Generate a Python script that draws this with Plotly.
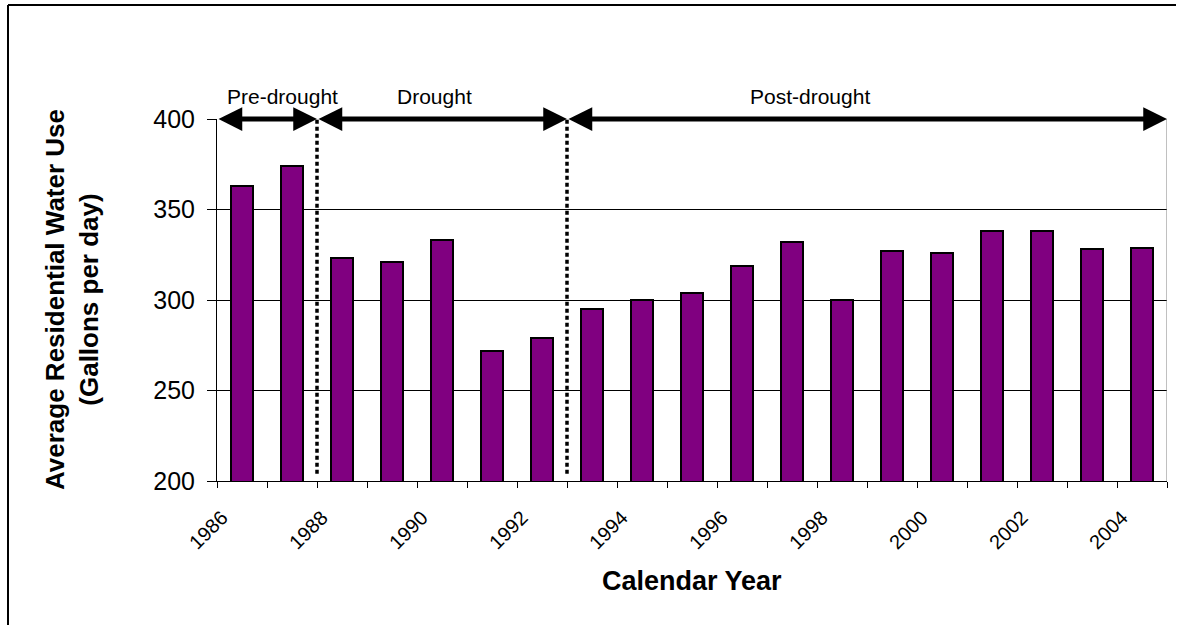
import plotly.graph_objects as go

# ---- data ----
years = list(range(1986, 2005))
water_use = [363, 374, 323, 321, 333, 272, 279, 295, 300, 304, 319, 332,
             300, 327, 326, 338, 338, 328, 329]
tick_years = list(range(1986, 2005, 2))
tick_labels = [str(y) for y in tick_years]
period_names = ["Pre-drought", "Drought", "Post-drought"]
period_bounds = [1986, 1988, 1993, 2005]
period_label_x = [1987.3, 1990.35, 1997.85]
y_ticks = [200, 250, 300, 350, 400]

FONT = "Liberation Sans, Arial, sans-serif"

fig = go.Figure()
fig.add_trace(go.Bar(
    x=years, y=water_use, offset=0.28, width=0.44,
    marker=dict(color="#800080", line=dict(color="black", width=2)),
    showlegend=False, hoverinfo="x+y",
))

shapes = []
# dotted period separators
for b in period_bounds[1:-1]:
    shapes.append(dict(type="line", xref="x", yref="y", x0=b, x1=b, y0=204, y1=400,
                       line=dict(color="black", width=3.5, dash="4px,3px")))
# right border of plot area
shapes.append(dict(type="line", xref="x", yref="y", x0=period_bounds[-1], x1=period_bounds[-1],
                   y0=200, y1=400, line=dict(color="#808080", width=1)))
# outer chart frame (top and left visible)
fx = (8 - 217) / 950
fy = (481 - 5) / 362
shapes.append(dict(type="line", xref="paper", yref="paper",
                   x0=fx, x1=(1176 - 217) / 950, y0=fy, y1=fy, line=dict(color="black", width=2)))
shapes.append(dict(type="line", xref="paper", yref="paper",
                   x0=fx, x1=fx, y0=fy, y1=-(625 - 481) / 362, line=dict(color="black", width=2)))

annotations = []
for i, name in enumerate(period_names):
    x0, x1 = period_bounds[i], period_bounds[i + 1]
    annotations.append(dict(
        x=x1, y=400, ax=x0, ay=400, xref="x", yref="y", axref="x", ayref="y",
        text="", showarrow=True, arrowhead=2, startarrowhead=2, arrowside="end+start",
        arrowwidth=5, arrowsize=0.95, startarrowsize=0.95, standoff=0, startstandoff=0,
        arrowcolor="black"))
    annotations.append(dict(
        x=period_label_x[i], y=400, xref="x", yref="y", yshift=23,
        text=name, showarrow=False, xanchor="center", yanchor="middle",
        font=dict(family=FONT, size=21, color="black")))

annotations.append(dict(
    x=(72 - 217) / 950, y=0.5, xref="paper", yref="paper",
    text="Average Residential Water Use<br>(Gallons per day)", textangle=-90,
    showarrow=False, xanchor="center", yanchor="middle",
    font=dict(family=FONT, size=26, color="black", weight="bold")))
annotations.append(dict(
    x=0.5, y=-(581 - 481) / 362, xref="paper", yref="paper",
    text="Calendar Year", showarrow=False, xanchor="center", yanchor="middle",
    font=dict(family=FONT, size=27, color="black", weight="bold")))

fig.update_layout(
    width=1177, height=626,
    margin=dict(l=217, r=10, t=119, b=145),
    paper_bgcolor="white", plot_bgcolor="white",
    font=dict(family=FONT, color="black"),
    shapes=shapes, annotations=annotations,
    bargap=0,
)
fig.update_xaxes(
    range=[period_bounds[0], period_bounds[-1]],
    tickmode="array", tickvals=tick_years, ticktext=tick_labels,
    tickangle=-45, tickfont=dict(size=20, family=FONT, color="black"),
    ticks="outside", ticklen=6, tickcolor="black",
    ticklabelshift=5, ticklabelstandoff=10,
    minor=dict(dtick=1, tick0=1986, ticks="outside", ticklen=6, tickcolor="black", showgrid=False),
    showline=True, linecolor="black", linewidth=1,
    showgrid=False, zeroline=False,
)
fig.update_yaxes(
    range=[200, 400], tickmode="array", tickvals=y_ticks,
    tickfont=dict(size=25, family=FONT, color="black"),
    ticks="outside", ticklen=9, tickcolor="black", ticklabelstandoff=7,
    showline=True, linecolor="black", linewidth=1,
    showgrid=True, gridcolor="black", gridwidth=1, zeroline=False,
)

fig.write_html("out.html", config={"displayModeBar": False})
